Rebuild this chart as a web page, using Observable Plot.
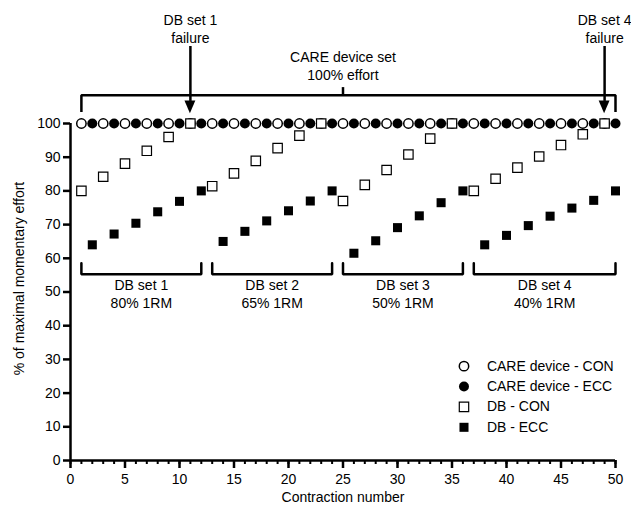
<!DOCTYPE html>
<html><head><meta charset="utf-8">
<script src="https://cdn.jsdelivr.net/npm/d3@7"></script>
<script src="https://cdn.jsdelivr.net/npm/@observablehq/plot@0.6"></script>
<style>body{margin:0;background:#fff}</style>
</head><body><div id="chart"></div>
<script>
// CARE device set (100% effort)
const careConX = [1,3,5,7,9,11,13,15,17,19,21,23,25,27,29,31,33,35,37,39,41,43,45,47,49];
const careConY = [100,100,100,100,100,100,100,100,100,100,100,100,100,100,100,100,100,100,100,100,100,100,100,100,100];
const careEccX = [2,4,6,8,10,12,14,16,18,20,22,24,26,28,30,32,34,36,38,40,42,44,46,48,50];
const careEccY = [100,100,100,100,100,100,100,100,100,100,100,100,100,100,100,100,100,100,100,100,100,100,100,100,100];
// DB sets
const dbConX = [1,3,5,7,9,11,13,15,17,19,21,23,25,27,29,31,33,35,37,39,41,43,45,47,49];
const dbConY = [80,84.2,88.1,91.9,96,100, 81.4,85.2,88.9,92.7,96.4,100, 77,81.8,86.2,90.8,95.5,100, 80,83.6,86.9,90.2,93.6,96.8,100];
const dbEccX = [2,4,6,8,10,12,14,16,18,20,22,24,26,28,30,32,34,36,38,40,42,44,46,48,50];
const dbEccY = [64,67.2,70.4,73.8,76.9,80, 65,68,71.1,74.1,77,80, 61.5,65.2,69.1,72.6,76.5,80, 64,66.8,69.7,72.5,74.9,77.2,80];

const setNames = ["DB set 1","DB set 2","DB set 3","DB set 4"];
const setLoads = ["80% 1RM","65% 1RM","50% 1RM","40% 1RM"];
const setStart = [1,13,25,37];
const setEnd = [12,24,36,50];

const careLabel = "CARE device set\n100% effort";
const careStart = 1, careEnd = 50;
const failureLabels = ["DB set 1\nfailure","DB set 4\nfailure"];
const failureX = [11,49];

const legendLabels = ["CARE device - CON","CARE device - ECC","DB - CON","DB - ECC"];
const xTicks = [0,5,10,15,20,25,30,35,40,45,50];
const xMinorTicks = [0,1,2,3,4,5,6,7,8,9,10,11,12,13,14,15,16,17,18,19,20,21,22,23,24,25,26,27,28,29,30,31,32,33,34,35,36,37,38,39,40,41,42,43,44,45,46,47,48,49,50];
const yTicks = [0,10,20,30,40,50,60,70,80,90,100];

const careCon = careConX.map((x,i)=>({x, y: careConY[i]}));
const careEcc = careEccX.map((x,i)=>({x, y: careEccY[i]}));
const dbCon = dbConX.map((x,i)=>({x, y: dbConY[i]}));
const dbEcc = dbEccX.map((x,i)=>({x, y: dbEccY[i]}));

const sets = setNames.map((name,i)=>({name, load: setLoads[i], start: setStart[i], end: setEnd[i]}));
const bTop = 58.5, bLine = 55.3;
const setBrackets = sets.flatMap((s,i)=>[
  {x: s.start, y: bTop, z: i}, {x: s.start, y: bLine, z: i},
  {x: s.end, y: bLine, z: i}, {x: s.end, y: bTop, z: i}
]);
const cLow = 103.4, cLine = 108.4, cTick = 110.8;
const careMid = (careStart + careEnd) / 2 - 0.5;
const careBracket = [
  {x: careStart, y: cLow}, {x: careStart, y: cLine}, {x: careEnd, y: cLine}, {x: careEnd, y: cLow}
];
const failures = failureLabels.map((label,i)=>({label, x: failureX[i]}));
const headBase = 106.7, headTip = 102.9, headHalf = 0.5;
const heads = failures.flatMap((f,i)=>[
  {x: f.x - headHalf, y1: headBase, y2: headBase, z: i},
  {x: f.x, y1: headBase, y2: headTip, z: i},
  {x: f.x + headHalf, y1: headBase, y2: headBase, z: i}
]);

const legend = legendLabels.map((label,i)=>({label, y: 28 - 6.05*i}));
const legX = 36.1, legTextX = 38.2;

const sw = 2.5;
const chart = Plot.plot({
  width: 631, height: 512,
  marginLeft: 70, marginRight: 16, marginTop: 123, marginBottom: 52,
  style: {fontFamily: "'Liberation Sans', Arial, sans-serif", fontSize: "14px", background: "white", color: "black"},
  x: {domain: [0,50]},
  y: {domain: [0,100]},
  marks: [
    Plot.axisX({ticks: xMinorTicks, tickSize: 4, strokeWidth: 2, text: null, label: null}),
    Plot.axisX({ticks: xTicks, tickSize: 8, strokeWidth: sw, tickPadding: 6, fontSize: 14, label: null}),
    Plot.axisY({ticks: yTicks, tickSize: 7, strokeWidth: sw, tickPadding: 3, fontSize: 14, label: null}),
    Plot.ruleX([0], {strokeWidth: sw}),
    Plot.ruleY([0], {strokeWidth: sw}),
    Plot.text(["% of maximal momentary effort"], {frameAnchor: "left", y: () => 54, dx: -51, rotate: -90, textAnchor: "middle", lineAnchor: "middle", fontSize: 14}),
    Plot.text(["Contraction number"], {frameAnchor: "bottom", x: () => 25, dy: 37, textAnchor: "middle", lineAnchor: "middle", fontSize: 14}),
    // CARE bracket
    Plot.line(careBracket, {x: "x", y: "y", strokeWidth: sw, strokeLinejoin: "miter", strokeLinecap: "butt"}),
    Plot.link([careMid], {x1: d => d, x2: d => d, y1: () => cLine, y2: () => cTick, strokeWidth: sw}),
    Plot.text([careLabel], {x: () => careMid, y: () => 117.4, lineHeight: 1.3, fontSize: 14}),
    // failure arrows
    Plot.link(failures, {x1: "x", x2: "x", y1: () => 123, y2: () => headBase, strokeWidth: sw}),
    Plot.areaY(heads, {x: "x", y1: "y1", y2: "y2", z: "z", fill: "black"}),
    Plot.text(failures, {x: "x", y: () => 128.3, text: "label", lineHeight: 1.3, fontSize: 14}),
    // set brackets
    Plot.line(setBrackets, {x: "x", y: "y", z: "z", strokeWidth: sw, strokeLinejoin: "miter"}),
    Plot.text(sets, {x: d => (d.start + d.end) / 2, y: () => 49.6, text: d => d.name + "\n" + d.load, lineHeight: 1.3, fontSize: 14}),
    // data
    Plot.dot(careCon, {x: "x", y: "y", symbol: "circle", r: 4.7, fill: "white", stroke: "black", strokeWidth: 1.5}),
    Plot.dot(careEcc, {x: "x", y: "y", symbol: "circle", r: 5, fill: "black", stroke: "none"}),
    Plot.dot(dbCon, {x: "x", y: "y", symbol: "square", r: 5.3, fill: "white", stroke: "black", strokeWidth: 1.2}),
    Plot.dot(dbEcc, {x: "x", y: "y", symbol: "square", r: 5.1, fill: "black", stroke: "none"}),
    // legend
    Plot.dot([legend[0]], {x: () => legX, y: "y", symbol: "circle", r: 4.7, fill: "white", stroke: "black", strokeWidth: 1.5}),
    Plot.dot([legend[1]], {x: () => legX, y: "y", symbol: "circle", r: 5, fill: "black", stroke: "none"}),
    Plot.dot([legend[2]], {x: () => legX, y: "y", symbol: "square", r: 5.3, fill: "white", stroke: "black", strokeWidth: 1.2}),
    Plot.dot([legend[3]], {x: () => legX, y: "y", symbol: "square", r: 5.1, fill: "black", stroke: "none"}),
    Plot.text(legend, {x: () => legTextX, y: "y", text: "label", textAnchor: "start", fontSize: 14})
  ]
});
document.getElementById("chart").append(chart);
</script>
</body></html>
